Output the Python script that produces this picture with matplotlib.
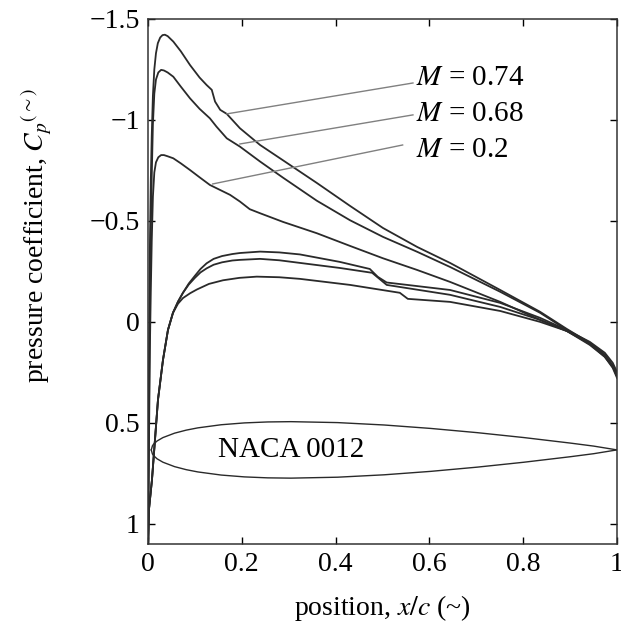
import matplotlib
matplotlib.use('Agg')
import matplotlib.pyplot as plt
from matplotlib.ticker import FixedLocator, FuncFormatter

plt.rcParams['font.family'] = ['Liberation Serif', 'DejaVu Serif']
plt.rcParams['mathtext.fontset'] = 'stix'
plt.rcParams['axes.unicode_minus'] = True

# upper surface Cp, one per Mach number
x_up_074 = [0.0, 0.002, 0.004, 0.006, 0.008, 0.0105, 0.0135, 0.017, 0.021, 0.026, 0.031, 0.036,
            0.042, 0.054, 0.07, 0.0896, 0.11, 0.125, 0.136, 0.143, 0.154, 0.168, 0.196, 0.239,
            0.288, 0.360, 0.431, 0.501, 0.574, 0.644, 0.751, 0.836, 0.893, 0.942, 0.974, 0.991, 1.0]
cp_up_074 = [1.15, 0.386, -0.356, -0.70, -0.92, -1.12, -1.25, -1.33, -1.38, -1.408, -1.42, -1.422,
             -1.415, -1.388, -1.34, -1.272, -1.21, -1.173, -1.149, -1.091, -1.050, -1.030, -0.959, -0.876,
             -0.800, -0.688, -0.574, -0.465, -0.371, -0.292, -0.158, -0.050, 0.035, 0.104, 0.163, 0.218, 0.267]

x_up_068 = [0.0, 0.002, 0.004, 0.006, 0.008, 0.0105, 0.0135, 0.017, 0.022, 0.028, 0.034, 0.042,
            0.054, 0.07, 0.0896, 0.11, 0.132, 0.146, 0.168, 0.196, 0.239, 0.288, 0.360, 0.431,
            0.501, 0.574, 0.644, 0.751, 0.836, 0.893, 0.942, 0.974, 0.991, 1.0]
cp_up_068 = [1.15, 0.485, -0.109, -0.45, -0.72, -0.98, -1.13, -1.20, -1.235, -1.248, -1.245, -1.235,
             -1.214, -1.165, -1.107, -1.055, -1.008, -0.967, -0.909, -0.868, -0.794, -0.714, -0.600, -0.503,
             -0.421, -0.347, -0.272, -0.149, -0.045, 0.040, 0.109, 0.173, 0.228, 0.277]

x_up_020 = [0.0, 0.002, 0.004, 0.006, 0.008, 0.0105, 0.0135, 0.017, 0.022, 0.028, 0.034, 0.042,
            0.054, 0.07, 0.0896, 0.11, 0.132, 0.175, 0.196, 0.217, 0.239, 0.288, 0.360, 0.431,
            0.501, 0.574, 0.644, 0.751, 0.836, 0.893, 0.942, 0.974, 0.991, 1.0]
cp_up_020 = [1.15, 0.634, 0.139, -0.15, -0.40, -0.62, -0.74, -0.79, -0.815, -0.826, -0.826, -0.82,
             -0.810, -0.785, -0.752, -0.716, -0.678, -0.629, -0.596, -0.558, -0.538, -0.495, -0.439, -0.376,
             -0.315, -0.257, -0.198, -0.099, -0.010, 0.045, 0.114, 0.173, 0.223, 0.267]

# lower surface Cp
x_lo_074 = [0.0, 0.002, 0.0085, 0.0149, 0.0213, 0.032, 0.0426, 0.0533, 0.064, 0.0746, 0.087, 0.100,
            0.112, 0.125, 0.14, 0.158, 0.18, 0.196, 0.239, 0.28, 0.324, 0.409, 0.473, 0.490,
            0.509, 0.644, 0.751, 0.836, 0.893, 0.942, 0.974, 0.991, 1.0]
cp_lo_074 = [1.15, 0.931, 0.782, 0.584, 0.386, 0.188, 0.040, -0.045, -0.100, -0.144, -0.190, -0.228,
             -0.262, -0.290, -0.312, -0.326, -0.336, -0.341, -0.348, -0.344, -0.334, -0.297, -0.262, -0.223,
             -0.195, -0.158, -0.094, -0.020, 0.040, 0.099, 0.153, 0.203, 0.248]

x_lo_068 = [0.0, 0.002, 0.0085, 0.0149, 0.0213, 0.032, 0.0426, 0.0533, 0.064, 0.0746, 0.087, 0.100,
            0.112, 0.125, 0.14, 0.158, 0.18, 0.196, 0.239, 0.28, 0.324, 0.409, 0.478, 0.509,
            0.644, 0.751, 0.836, 0.893, 0.942, 0.974, 0.991, 1.0]
cp_lo_068 = [1.15, 0.931, 0.782, 0.584, 0.386, 0.188, 0.040, -0.045, -0.100, -0.144, -0.185, -0.218,
             -0.245, -0.265, -0.283, -0.295, -0.304, -0.307, -0.312, -0.305, -0.292, -0.267, -0.243, -0.183,
             -0.134, -0.074, -0.010, 0.045, 0.104, 0.163, 0.218, 0.262]

x_lo_020 = [0.0, 0.002, 0.0085, 0.0149, 0.0213, 0.032, 0.0426, 0.0533, 0.064, 0.0746, 0.09, 0.104,
            0.13, 0.16, 0.195, 0.232, 0.28, 0.324, 0.431, 0.537, 0.554, 0.644, 0.751, 0.836,
            0.893, 0.942, 0.974, 0.991, 1.0]
cp_lo_020 = [1.15, 0.931, 0.782, 0.584, 0.386, 0.188, 0.040, -0.045, -0.090, -0.118, -0.142, -0.160,
             -0.188, -0.206, -0.218, -0.224, -0.221, -0.213, -0.183, -0.144, -0.114, -0.099, -0.054, 0.000,
             0.045, 0.109, 0.168, 0.218, 0.267]

# NACA 0012 half-thickness ordinates (fraction of chord)
naca_x = [0.0, 0.0025, 0.005, 0.0125, 0.025, 0.05, 0.075, 0.1, 0.15, 0.2, 0.25, 0.3,
          0.4, 0.5, 0.6, 0.7, 0.8, 0.9, 0.95, 1.0]
naca_y = [0.0, 0.0087, 0.0122, 0.01894, 0.02615, 0.03555, 0.042, 0.04683, 0.05345, 0.05737, 0.05941,
          0.06002, 0.05803, 0.05294, 0.04563, 0.03664, 0.02623, 0.01448, 0.00807, 0.0]

mach_labels = ['$M$ = 0.74', '$M$ = 0.68', '$M$ = 0.2']
label_pos = [(0.572, -1.208), (0.572, -1.030), (0.572, -0.851)]
leader_from = [(0.168, -1.030), (0.196, -0.881), (0.138, -0.683)]
leader_to = [(0.565, -1.183), (0.565, -1.025), (0.543, -0.876)]

y_ticks = [-1.5, -1, -0.5, 0, 0.5, 1]
x_ticks = [0, 0.2, 0.4, 0.6, 0.8, 1]

fig = plt.figure(figsize=(6.21, 6.22), dpi=100)
ax = fig.add_axes([0.2383, 0.1254, 0.7552, 0.8441])

line_kw = dict(color='#2a2a2a', lw=1.3)
for xs, cps in [(x_up_074, cp_up_074), (x_up_068, cp_up_068), (x_up_020, cp_up_020),
                (x_lo_074, cp_lo_074), (x_lo_068, cp_lo_068), (x_lo_020, cp_lo_020)]:
    ax.plot(xs, cps, **line_kw)

# airfoil outline, scaled into the lower part of the plot
af_x0, af_c, af_mid, af_scale = 0.007, 0.993, 0.634, 2.33
ax_af = [af_x0 + af_c * v for v in naca_x]
ax.plot(ax_af, [af_mid - af_scale * v for v in naca_y], color='#2a2a2a', lw=1.0)
ax.plot(ax_af, [af_mid + af_scale * v for v in naca_y], color='#2a2a2a', lw=1.0)
ax.text(0.149, af_mid, 'NACA 0012', fontsize=21, va='center', ha='left')

for lab, pos, p0, p1 in zip(mach_labels, label_pos, leader_from, leader_to):
    ax.plot([p0[0], p1[0]], [p0[1], p1[1]], color='#808080', lw=1.0)
    ax.text(pos[0], pos[1], lab, fontsize=21, va='center', ha='left')

ax.set_xlim(0, 1)
ax.set_ylim(1.1, -1.5)
ax.xaxis.set_major_locator(FixedLocator(x_ticks))
ax.yaxis.set_major_locator(FixedLocator(y_ticks))
fmt = FuncFormatter(lambda v, p: ('%g' % v).replace('-', '\u2212'))
ax.xaxis.set_major_formatter(fmt)
ax.yaxis.set_major_formatter(fmt)
ax.tick_params(direction='in', length=5, width=1, top=True, right=True, labelsize=20, pad=6)
for s in ax.spines.values():
    s.set_linewidth(1.1)
    s.set_color('#333333')

ax.set_xlabel('position, $x/c$ (~)', fontsize=20, va='top')
ax.set_ylabel('pressure coefficient, $C_p{}^{(\\sim)}$', fontsize=20)
ax.xaxis.set_label_coords(0.5, -0.094)
ax.yaxis.set_label_coords(-0.2, 0.587)

fig.savefig('out.png', dpi=100)
